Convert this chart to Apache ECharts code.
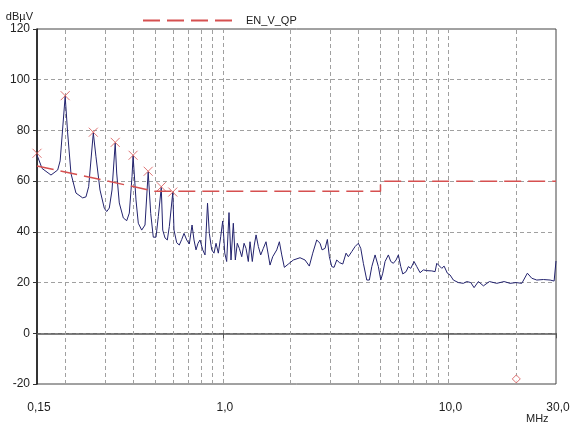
<!DOCTYPE html>
<html>
<head>
<meta charset="utf-8">
<script src="https://cdn.jsdelivr.net/npm/echarts@6/dist/echarts.min.js"></script>
<style>
  html, body { margin: 0; padding: 0; background: #fff; }
  #chart { width: 579px; height: 424px; }
</style>
</head>
<body>
<div id="chart"></div>
<script>
// measured trace (MHz / dBµV)
var traceFreq = [0.150, 0.158, 0.1695, 0.173, 0.1853, 0.190, 0.200, 0.2051, 0.2122, 0.2233,
  0.2391, 0.2473, 0.2542, 0.2665, 0.2739, 0.2854, 0.2982, 0.3056, 0.3138, 0.3226,
  0.3333, 0.3384, 0.3475, 0.362, 0.3748, 0.3849, 0.3957, 0.400, 0.4121, 0.4219,
  0.4368, 0.4518, 0.4667, 0.4789, 0.4917, 0.5055, 0.5175, 0.5333, 0.5414, 0.5542,
  0.5674, 0.5791, 0.600, 0.6075, 0.6245, 0.6412, 0.6573, 0.6729, 0.6917, 0.7103,
  0.7302, 0.7451, 0.7605, 0.7762, 0.7921, 0.8144, 0.8337, 0.8553, 0.8713, 0.8927,
  0.914, 0.9328, 0.955, 0.9786, 0.9989, 1.02, 1.04, 1.065, 1.087, 1.113,
  1.136, 1.159, 1.183, 1.213, 1.242, 1.267, 1.297, 1.32, 1.351, 1.379,
  1.404, 1.437, 1.472, 1.512, 1.554, 1.591, 1.619, 1.664, 1.734, 1.781,
  1.825, 1.874, 1.952, 2.054, 2.199, 2.314, 2.418, 2.504, 2.608, 2.698,
  2.754, 2.84, 2.907, 2.967, 3.041, 3.113, 3.199, 3.286, 3.402, 3.518,
  3.602, 3.729, 3.857, 3.989, 4.088, 4.198, 4.347, 4.463, 4.576, 4.732,
  4.893, 5.015, 5.117, 5.239, 5.419, 5.553, 5.702, 5.861, 6.001, 6.15,
  6.277, 6.493, 6.647, 6.812, 7.045, 7.242, 7.49, 7.747, 8.021, 8.441,
  8.73, 8.882, 9.029, 9.349, 9.57, 9.897, 10.17, 10.52, 11.07, 11.65,
  12.06, 12.57, 13.0, 13.58, 14.3, 15.2, 16.39, 17.66, 18.77, 19.96,
  21.16, 22.4, 23.43, 24.66, 26.38, 28.25, 29.43, 29.9, 30.0];
var traceLevel = [70.3, 65, 63, 62.4, 64.4, 68, 93.5, 79, 63, 55.3,
  53.4, 53.8, 57.8, 79, 69.6, 56.5, 49.3, 48, 49.4, 56.5,
  75, 63.2, 51.4, 45.5, 44.4, 47.4, 61.8, 70, 52.6, 43.4,
  40.7, 42.7, 63.6, 47.3, 37.9, 37.9, 46, 57.5, 40.7, 37.6,
  36.8, 42.1, 55.5, 40.7, 35.7, 34.8, 37, 39.4, 36.8, 35.2,
  42.7, 36.8, 32.9, 35.5, 36.8, 32.9, 30.9, 51.3, 39.4, 32.9,
  31.6, 35.5, 31.6, 38.1, 44.3, 31.6, 28.3, 47.6, 28.9, 43.4,
  28.9, 35.5, 33.5, 30.2, 35.5, 33.5, 28.3, 36.1, 28.3, 34.8,
  38.8, 34.2, 30.9, 33.5, 36.1, 30.9, 26.9, 30.2, 32.9, 36.1,
  30.9, 26, 27.3, 28.9, 29.8, 28.9, 26.5, 31.6, 36.8, 35.5,
  32.9, 33.5, 37, 30.2, 26.3, 26, 28.9, 27.9, 27.3, 31.6,
  30.2, 32.2, 34.2, 35.5, 33.5, 27.6, 21, 21, 26.3, 30.9,
  26.3, 21, 23.7, 28.3, 30.9, 28.3, 27.6, 28.9, 30.9, 26.3,
  23.4, 24.3, 26.3, 25.6, 28.3, 26.3, 23.9, 25, 24.7, 24.6,
  24.3, 27.6, 27.9, 25.6, 26.5, 23.7, 23, 21, 20, 19.7,
  20.4, 20, 18, 20.4, 18.7, 20.4, 19.7, 20.4, 19.7, 20,
  19.7, 23.7, 21.7, 21, 21.2, 21, 20.6, 20.4, 28.5];

// EN_V_QP limit
var limitFreq = [0.15, 0.5, 5, 5, 30];
var limitLevel = [66, 56, 56, 60, 60];

// peak markers
var peakFreq = [0.15, 0.2, 0.2665, 0.3333, 0.4, 0.4667, 0.5333, 0.6];
var peakLevel = [71, 93.7, 79.3, 75.3, 70.2, 63.9, 57.8, 55.7];
var diamondFreq = [20];
var diamondLevel = [-18];

var xTicks = [0.15, 1, 10, 30];
var xTickLabels = ['0,15', '1,0', '10,0', '30,0'];
var xMinorGrid = [0.2, 0.3, 0.4, 0.5, 0.6, 0.7, 0.8, 0.9, 2, 3, 4, 5, 6, 7, 8, 9, 20];

function zip(a, b) {
    return a.map(function (v, i) { return [v, b[i]]; });
}

var myChart = echarts.init(document.getElementById('chart'));
var gridDash = { color: '#a0a0a0', type: [4, 3], width: 1 };
var red = '#d65050';

var option = {
    animation: false,
    textStyle: { fontFamily: 'Liberation Sans, Arial, sans-serif' },
    legend: {
        left: 137,
        top: 10,
        padding: 5,
        itemWidth: 90,
        itemHeight: 14,
        itemStyle: { opacity: 0 },
        data: ['EN_V_QP'],
        textStyle: { fontSize: 11, color: '#222', padding: [0, 0, 0, 8] }
    },
    graphic: [{
        type: 'text',
        left: 526,
        top: 413,
        style: { text: 'MHz', font: '11px "Liberation Sans", Arial, sans-serif', fill: '#222' }
    }],
    grid: {
        left: 37, top: 29, right: 23, bottom: 40,
        show: true, borderColor: '#444', borderWidth: 1
    },
    xAxis: {
        type: 'log',
        logBase: 10,
        min: 0.15,
        max: 30,
        axisLine: { lineStyle: { color: '#555', width: 1.5 } },
        axisTick: { show: true, length: 5, lineStyle: { color: '#555' } },
        axisLabel: {
            margin: 18,
            fontSize: 12,
            color: '#222',
            padding: [0, 0, 0, 4],
            formatter: function (v) {
                for (var i = 0; i < xTicks.length; i++) {
                    if (Math.abs(xTicks[i] - v) / xTicks[i] < 1e-4) return xTickLabels[i];
                }
                return '';
            }
        },
        splitLine: { show: true, showMinLine: false, showMaxLine: false, lineStyle: gridDash },
        minorTick: { show: false },
        minorSplitLine: { show: false }
    },
    yAxis: {
        type: 'value',
        min: -20,
        max: 120,
        interval: 20,
        name: 'dBµV',
        nameLocation: 'end',
        nameGap: 7,
        nameTextStyle: { fontSize: 11, color: '#222', align: 'right', padding: [0, 4, 0, 0] },
        axisLine: { show: true, lineStyle: { color: '#111', width: 1.5 } },
        axisTick: { show: true, length: 4, lineStyle: { color: '#333' } },
        axisLabel: { margin: 7, fontSize: 12, color: '#222', padding: [4, 0, 0, 0] },
        splitLine: { show: true, showMinLine: false, showMaxLine: false, lineStyle: gridDash }
    },
    series: [{
        name: 'trace',
        type: 'line',
        data: zip(traceFreq, traceLevel),
        showSymbol: false,
        symbol: 'none',
        lineStyle: { color: '#23236e', width: 1 },
        z: 2,
        markLine: {
            silent: true,
            symbol: 'none',
            z: 1,
            label: { show: false },
            lineStyle: gridDash,
            data: xMinorGrid.map(function (f) { return { xAxis: f }; })
        }
    }, {
        name: 'EN_V_QP',
        type: 'line',
        data: zip(limitFreq, limitLevel),
        showSymbol: false,
        symbol: 'none',
        color: red,
        lineStyle: { color: red, width: 1.5, type: [17, 7] },
        z: 3
    }, {
        name: 'peaks',
        type: 'scatter',
        data: zip(peakFreq, peakLevel),
        symbol: 'path://M0,0L10,10M10,0L0,10',
        symbolSize: 9,
        itemStyle: { color: 'transparent', borderColor: red, borderWidth: 1 },
        z: 4
    }, {
        name: 'final',
        type: 'scatter',
        data: zip(diamondFreq, diamondLevel),
        symbol: 'diamond',
        symbolSize: 8,
        itemStyle: { color: '#fff', borderColor: red, borderWidth: 1 },
        z: 4
    }]
};

myChart.setOption(option);
</script>
</body>
</html>
